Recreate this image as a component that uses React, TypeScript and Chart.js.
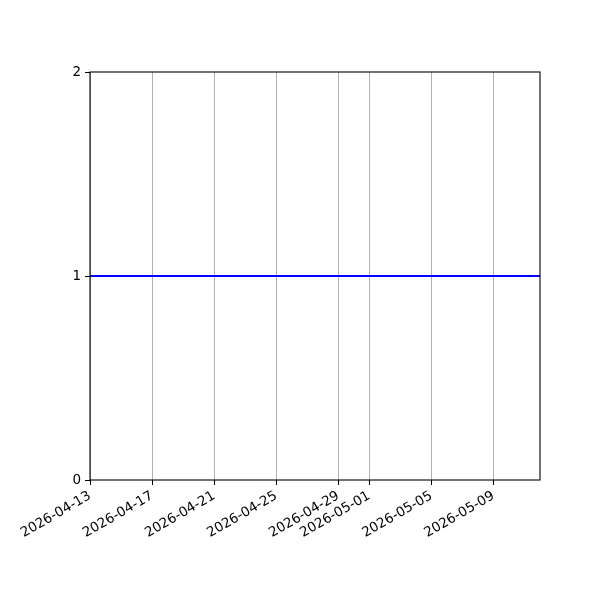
import React, { useEffect, useRef } from "react";
import { Chart, registerables } from "chart.js";

Chart.register(...registerables);

// series: a flat value of 1 over the whole range
const seriesDates = ["2026-04-13", "2026-05-12"];
const seriesValues = [1, 1];

const xStart = "2026-04-13";
const xEnd = "2026-05-12";
const xTickDates = ["2026-04-13", "2026-04-17", "2026-04-21", "2026-04-25", "2026-04-29", "2026-05-01", "2026-05-05", "2026-05-09"];
const yTicks = [0, 1, 2];

const DAY = 86400000;
const base = Date.parse(xStart + "T00:00:00Z");
const toDay = (s: string) => (Date.parse(s + "T00:00:00Z") - base) / DAY;
const fromDay = (d: number) => new Date(base + d * DAY).toISOString().slice(0, 10);

// matplotlib style full frame around the plot area
const framePlugin = {
    id: "frame",
    afterDraw(chart: Chart) {
        const { ctx, chartArea: a } = chart;
        ctx.save();
        ctx.strokeStyle = "#000";
        ctx.lineWidth = 1.1;
        ctx.strokeRect(a.left, a.top, a.right - a.left, a.bottom - a.top);
        ctx.restore();
    },
};

const App: React.FC = () => {
    const chartRef = useRef<HTMLCanvasElement | null>(null);

    useEffect(() => {
        if (!chartRef.current) return;
        const font = { family: "DejaVu Sans", size: 13.5 };
        const chart = new Chart(chartRef.current, {
            type: "line",
            data: {
                datasets: [
                    {
                        data: seriesDates.map((d, i) => ({ x: toDay(d), y: seriesValues[i] })),
                        borderColor: "#0000ff",
                        borderWidth: 2,
                        pointRadius: 0,
                        tension: 0,
                    },
                ],
            },
            options: {
                responsive: false,
                animation: false,
                layout: { padding: { top: 72, right: 60, left: 0, bottom: 0 } },
                plugins: { legend: { display: false }, tooltip: { enabled: false } },
                scales: {
                    x: {
                        type: "linear",
                        min: 0,
                        max: toDay(xEnd),
                        afterBuildTicks: (axis) => {
                            axis.ticks = xTickDates.map((d) => ({ value: toDay(d) }));
                        },
                        afterFit: (axis) => {
                            axis.height = 120;
                        },
                        ticks: {
                            callback: (v) => fromDay(Number(v)),
                            minRotation: 30,
                            maxRotation: 30,
                            autoSkip: false,
                            color: "#000",
                            font,
                            padding: 3,
                        },
                        grid: {
                            color: "#b0b0b0",
                            lineWidth: 1,
                            tickColor: "#000",
                            tickLength: 5,
                        },
                        border: { display: false },
                    },
                    y: {
                        type: "linear",
                        min: 0,
                        max: 2,
                        afterBuildTicks: (axis) => {
                            axis.ticks = yTicks.map((v) => ({ value: v }));
                        },
                        afterFit: (axis) => {
                            axis.width = 90;
                        },
                        ticks: { color: "#000", font, padding: 4 },
                        grid: {
                            drawOnChartArea: false,
                            tickColor: "#000",
                            tickLength: 5,
                        },
                        border: { display: false },
                    },
                },
            },
            plugins: [framePlugin],
        });
        return () => chart.destroy();
    }, []);

    return (
        <div style={{ position: "fixed", left: 0, top: 0, width: 600, height: 600, background: "#fff" }}>
            <canvas ref={chartRef} width={600} height={600} />
        </div>
    );
};

export default App;
